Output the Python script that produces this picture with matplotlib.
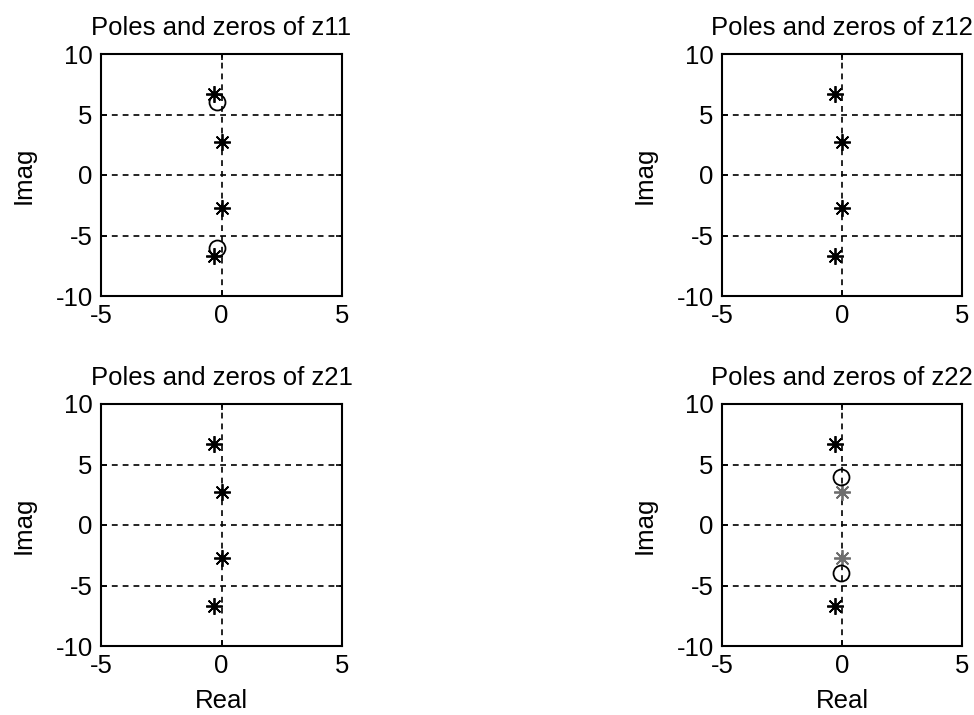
import matplotlib
matplotlib.use("Agg")
import matplotlib.pyplot as plt

plt.rcParams['font.family'] = ['Liberation Sans', 'DejaVu Sans']

titles = ["Poles and zeros of z11", "Poles and zeros of z12",
          "Poles and zeros of z21", "Poles and zeros of z22"]

# poles (real, imag) and zeros (real, imag) for each impedance parameter
z11_poles_re = [-0.3, 0.0, 0.0, -0.3]
z11_poles_im = [6.7, 2.7, -2.7, -6.7]
z11_zeros_re = [-0.2, -0.2]
z11_zeros_im = [6.0, -6.0]

z12_poles_re = [-0.3, 0.0, 0.0, -0.3]
z12_poles_im = [6.7, 2.7, -2.7, -6.7]

z21_poles_re = [-0.3, 0.0, 0.0, -0.3]
z21_poles_im = [6.7, 2.7, -2.7, -6.7]

z22_outer_poles_re = [-0.3, -0.3]
z22_outer_poles_im = [6.7, -6.7]
z22_inner_poles_re = [0.0, 0.0]
z22_inner_poles_im = [2.7, -2.7]
z22_zeros_re = [-0.05, -0.05]
z22_zeros_im = [4.0, -4.0]

xticks = [-5, 0, 5]
yticks = [-10, -5, 0, 5, 10]

W, H = 974, 715
fig = plt.figure(figsize=(W / 100, H / 100), dpi=100)

FS = 18.5

def make_axes(x0, y0, x1, y1):
    return fig.add_axes([x0 / W, 1 - y1 / H, (x1 - x0) / W, (y1 - y0) / H])

boxes = [(101, 54, 342, 296), (722, 54, 962, 296),
         (101, 404, 342, 646), (722, 404, 962, 646)]
axes = [make_axes(*b) for b in boxes]

def stars(ax, re, im, color='black'):
    ax.plot(re, im, linestyle='none', marker=(8, 2, 0), markersize=12,
            markeredgewidth=1.3, color=color, zorder=4)
    ax.plot(re, im, linestyle='none', marker='o', markersize=4.5,
            color=color, markeredgewidth=0, zorder=5)

def circles(ax, re, im):
    ax.plot(re, im, linestyle='none', marker='o', markersize=11.5,
            markerfacecolor='none', markeredgecolor='black',
            markeredgewidth=1.3, zorder=4)

for i, ax in enumerate(axes):
    ax.set_xlim(-5, 5)
    ax.set_ylim(-10, 10)
    ax.set_xticks(xticks)
    ax.set_yticks(yticks)
    ax.set_xticklabels([str(t) for t in xticks], fontsize=FS)
    ax.set_yticklabels([str(t) for t in yticks], fontsize=FS)
    ax.tick_params(direction='in', length=4, width=1.2, pad=6,
                   top=True, right=True, colors='black')
    for s in ax.spines.values():
        s.set_linewidth(1.5)
        s.set_color('black')
    ax.grid(True, color='black', linestyle=(0, (3.5, 3)), linewidth=1.2)
    ax.set_axisbelow(True)
    ax.set_title(titles[i], fontsize=FS, pad=14)
    if i % 2 == 0 or True:
        ax.set_ylabel("Imag", fontsize=FS, labelpad=14)
    if i >= 2:
        ax.set_xlabel("Real", fontsize=FS, labelpad=8)

stars(axes[0], z11_poles_re, z11_poles_im)
circles(axes[0], z11_zeros_re, z11_zeros_im)

stars(axes[1], z12_poles_re, z12_poles_im)

stars(axes[2], z21_poles_re, z21_poles_im)

stars(axes[3], z22_outer_poles_re, z22_outer_poles_im)
stars(axes[3], z22_inner_poles_re, z22_inner_poles_im, color='#6e6e6e')
circles(axes[3], z22_zeros_re, z22_zeros_im)

fig.savefig("out.png", dpi=100)
